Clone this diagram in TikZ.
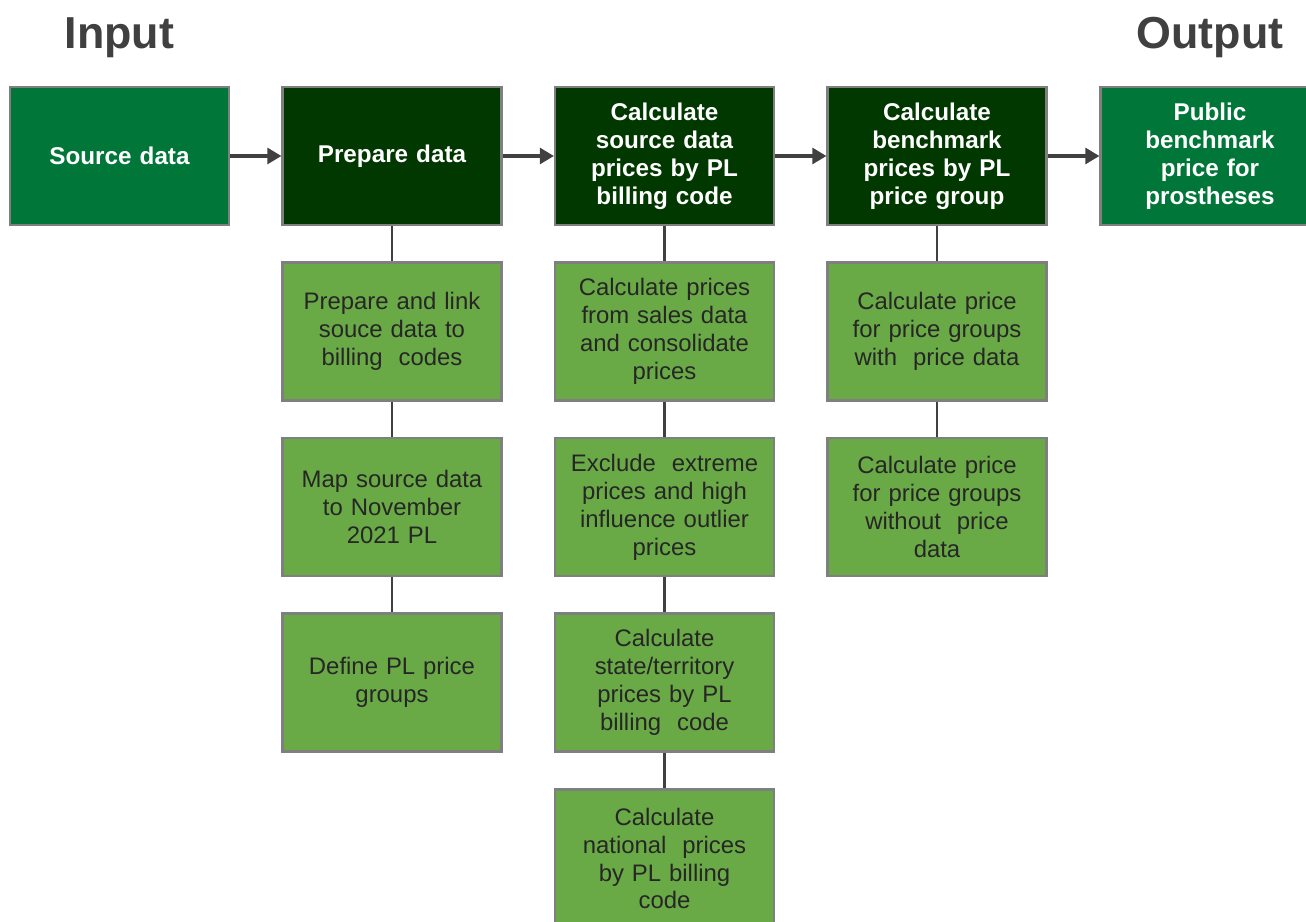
\documentclass[tikz,border=0pt]{standalone}
\usepackage{fontspec}
\setmainfont{Liberation Sans}
\usetikzlibrary{arrows.meta}
\definecolor{midgreen}{RGB}{0,119,57}
\definecolor{darkgreen}{RGB}{0,56,0}
\definecolor{lightgreen}{RGB}{106,170,70}
\definecolor{edgegrey}{RGB}{127,127,127}
\definecolor{linegrey}{RGB}{64,64,64}
\definecolor{textgrey}{RGB}{38,38,38}
\begin{document}
\begin{tikzpicture}[x=0.02cm,y=-0.02cm,
    box/.style={draw=edgegrey,line width=1.2pt,minimum width=219*0.02cm,minimum height=138*0.02cm,
      text width=200*0.02cm,align=center,inner sep=0pt,font=\fontsize{13.6}{15.9}\selectfont},
    endbox/.style={box,fill=midgreen,text=white,font=\fontsize{13.8}{16}\selectfont\bfseries},
    stagebox/.style={box,fill=darkgreen,text=white,font=\fontsize{13.8}{16}\selectfont\bfseries},
    taskbox/.style={box,fill=lightgreen,text=textgrey},
    flow/.style={draw=linegrey,line width=1.8pt,-{Triangle[length=8pt,width=9pt]}},
    link/.style={draw=linegrey,line width=1.6pt}]
            \useasboundingbox (0,0) rectangle (1306,922);
            \clip (0,0) rectangle (1306,922);
            % headings
            \node[text=linegrey,font=\fontsize{25.5}{30}\selectfont\bfseries] (input) at (119.5,38) {Input};
            \node[text=linegrey,font=\fontsize{25.5}{30}\selectfont\bfseries] (output) at (1210,38) {Output};
            % top row
            \node[endbox] (source) at (119.5,156) {Source data};
            \node[stagebox] (prepare) at (392,156) {Prepare data};
            \node[stagebox] (calcsource) at (664.5,156) {Calculate\\ source data\\ prices by PL\\ billing code};
            \node[stagebox] (calcbench) at (937,156) {Calculate\\ benchmark\\ prices by PL\\ price group};
            \node[endbox] (public) at (1210,156) {Public\\ benchmark\\ price for\\ prostheses};
            % prepare data column
            \node[taskbox] (link) at (392,331.5) {Prepare and link\\ souce data to\\ billing\ \ codes};
            \node[taskbox] (map) at (392,507) {Map source data\\ to November\\ 2021 PL};
            \node[taskbox] (groups) at (392,682.5) {Define PL price\\ groups};
            % source data column
            \node[taskbox] (sales) at (664.5,331.5) {Calculate prices\\ from sales data\\ and consolidate\\ prices};
            \node[taskbox] (exclude) at (664.5,507) {Exclude\ \ extreme\\ prices and high\\ influence outlier\\ prices};
            \node[taskbox] (state) at (664.5,682.5) {Calculate\\ state/territory\\ prices by PL\\ billing\ \ code};
            \node[taskbox] (national) at (664.5,858.5) {Calculate\\ national\ \ prices\\ by PL billing\\ code};
            % benchmark column
            \node[taskbox] (withdata) at (937,331.5) {Calculate price\\ for price groups\\ with\ \ price data};
            \node[taskbox] (withoutdata) at (937,507) {Calculate price\\ for price groups\\ without\ \ price\\ data};
            % connectors
            \draw[flow] (source) -- (prepare);
            \draw[flow] (prepare) -- (calcsource);
            \draw[flow] (calcsource) -- (calcbench);
            \draw[flow] (calcbench) -- (public);
            \draw[link] (prepare) -- (link) -- (map) -- (groups);
            \draw[link] (calcsource) -- (sales) -- (exclude) -- (state) -- (national);
            \draw[link] (calcbench) -- (withdata) -- (withoutdata);
        \end{tikzpicture}
\end{document}
